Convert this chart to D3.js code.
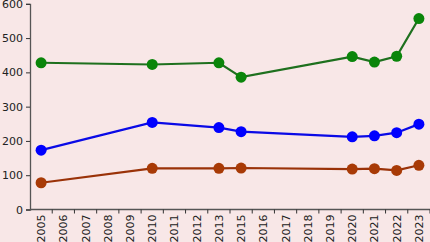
<!DOCTYPE html>
<html>
<head>
<meta charset="utf-8">
<script src="https://cdn.jsdelivr.net/npm/d3@7"></script>
<style>
  body { margin: 0; background: #f8e7e7; }
  svg { display: block; }
  text { font-family: "DejaVu Sans", sans-serif; }
</style>
</head>
<body>
<svg id="chart"></svg>
<script>
var years = ['2005','2006','2007','2008','2009','2010','2011','2012','2013','2015','2016','2017','2018','2019','2020','2021','2022','2023'];
var pointYears = ['2005','2010','2013','2015','2020','2021','2022','2023'];
var greenVals = [428, 423, 428, 386, 446, 430, 447, 557];
var blueVals  = [173, 254, 239, 227, 212, 215, 224, 249];
var brownVals = [78, 120, 120, 121, 118, 119, 114, 129];
var yTicks = [0, 100, 200, 300, 400, 500, 600];

var W = 430, H = 242;
var svg = d3.select('#chart').attr('width', W).attr('height', H);

var x = d3.scaleBand().domain(years).range([30, 430]);
var y = d3.scaleLinear().domain([0, 600]).range([209.5, 3.8]);

// y axis
var yAxis = svg.append('g').attr('transform', 'translate(30,0)')
  .call(d3.axisLeft(y).tickValues(yTicks).tickSize(4).tickPadding(3));
yAxis.select('.domain').attr('stroke', '#555').attr('stroke-width', 1.3);
yAxis.selectAll('.tick line').attr('stroke', '#333');
yAxis.selectAll('text').attr('font-size', 11).attr('fill', '#222');

// x axis (ticks on band edges)
var xg = svg.append('g').attr('transform', 'translate(0,' + y(0) + ')');
xg.append('line').attr('x1', 30).attr('x2', 430).attr('stroke', '#555').attr('stroke-width', 1.3);
xg.selectAll('line.tk').data(years).enter().append('line')
  .attr('class', 'tk')
  .attr('x1', function(d) { return x(d) + x.bandwidth(); })
  .attr('x2', function(d) { return x(d) + x.bandwidth(); })
  .attr('y1', 0).attr('y2', 4).attr('stroke', '#333');
xg.selectAll('text').data(years).enter().append('text')
  .attr('transform', function(d) { return 'translate(' + (x(d) + x.bandwidth() / 2 + 4) + ',5) rotate(-90)'; })
  .attr('text-anchor', 'end')
  .attr('font-size', 11)
  .attr('fill', '#222')
  .text(function(d) { return d; });

var series = [
  { vals: greenVals, line: '#1e701e', dot: '#0a850a' },
  { vals: blueVals,  line: '#0a0ae6', dot: '#0000ff' },
  { vals: brownVals, line: '#9a3208', dot: '#a83a06' }
];

var line = d3.line()
  .x(function(d, i) { return x(pointYears[i]) + x.bandwidth() / 2; })
  .y(function(d) { return y(d); });

series.forEach(function(s) {
  svg.append('path').datum(s.vals)
    .attr('d', line).attr('fill', 'none')
    .attr('stroke', s.line).attr('stroke-width', 2.2);
  svg.selectAll(null).data(s.vals).enter().append('circle')
    .attr('cx', function(d, i) { return x(pointYears[i]) + x.bandwidth() / 2; })
    .attr('cy', function(d) { return y(d); })
    .attr('r', 5.5)
    .attr('fill', s.dot);
});
</script>
</body>
</html>
